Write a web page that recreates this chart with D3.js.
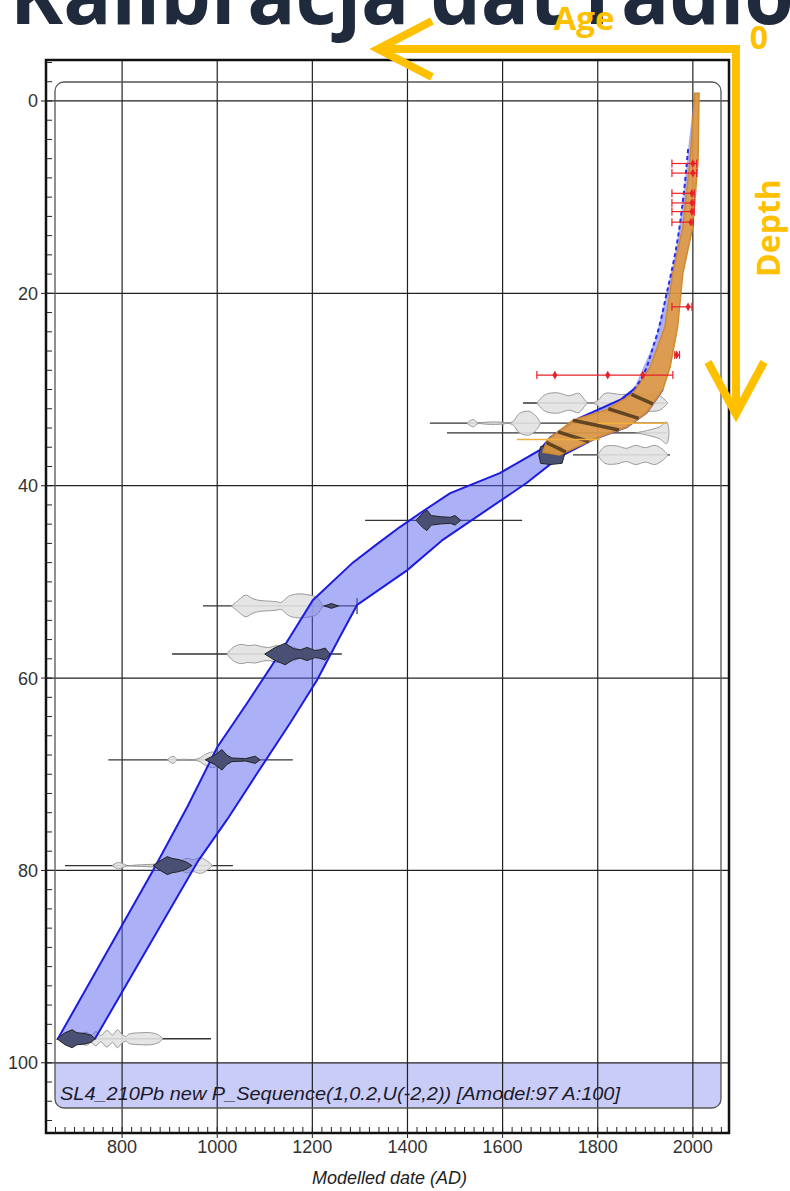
<!DOCTYPE html>
<html>
<head>
<meta charset="utf-8">
<script src="https://cdn.jsdelivr.net/npm/d3@7"></script>
<style>
  body { margin: 0; background: #fff; }
  svg { display: block; }
</style>
</head>
<body>
<script>
var W = 790, H = 1191;

// axis ticks
var xTicks = [800, 1000, 1200, 1400, 1600, 1800, 2000];
var yTicks = [0, 20, 40, 60, 80, 100];

// blue P_Sequence envelope: older (left) edge and younger (right) edge
var envOldDepth = [-0.8, 5, 10, 15, 20, 25, 30, 31, 33, 35, 36.3, 38.7, 40.8, 42.5, 44.3, 46, 48, 51.9, 57.4, 62.6, 67.2, 73.4, 80, 97.5];
var envOldYear  = [2003, 1990, 1980, 1966, 1945, 1920, 1875, 1850, 1760, 1700, 1678, 1594, 1489, 1437, 1384, 1338, 1285, 1201, 1132, 1063, 1000, 937, 865, 665];
var envYoungDepth = [-0.8, 6.1, 13.1, 17.9, 23.5, 26.9, 30, 32.4, 33.9, 35.2, 37, 39.7, 45.6, 48.8, 52.4, 55.7, 60.2, 64.7, 69.9, 74.7, 79, 97.5];
var envYoungYear  = [2013, 2011, 2000, 1979, 1968, 1956, 1937, 1903, 1861, 1790, 1720, 1651, 1475, 1399, 1294, 1258, 1210, 1153, 1084, 1021, 960, 743];

// orange 210Pb model band
var pbOldDepth = [-0.8, 6.1, 13.1, 17.9, 23.5, 27.7, 30.4, 32.1, 33.2, 35.3, 36.5];
var pbOldYear  = [2004, 1994, 1979, 1958, 1941, 1910, 1874, 1819, 1748, 1693, 1685];
var pbYoungDepth = [-0.8, 6.1, 13.1, 17.9, 23.5, 27.7, 30, 32.4, 33.9, 35.2, 36.8];
var pbYoungYear  = [2013, 2011, 2000, 1979, 1968, 1952, 1937, 1903, 1861, 1790, 1720];
var stripeDepths = [31.0, 32.5, 33.7, 34.9, 36.0];
var pbRangeDepth = [33.5, 35.2];
var pbRangeFrom  = [1800, 1630];
var pbRangeTo    = [1945, 1805];

// red 210Pb dates
var leadDepth = [6.5, 7.5, 9.6, 10.6, 11.5, 12.6, 21.4, 26.4, 28.5];
var leadFrom  = [1956, 1956, 1956, 1956, 1956, 1956, 1956, 1962, 1672];
var leadTo    = [2008, 2008, 2003, 2003, 2003, 2001, 1998, 1972, 1958];
var leadMarks = [[2000], [2000], [1998], [1998], [1998], [1996], [1990], [1966], [1710, 1821, 1895]];

// radiocarbon samples: depth, range line, unmodelled (grey) and modelled (dark) densities
var c14Depth = [97.5, 79.5, 68.5, 57.5, 52.5, 43.6, 36.8, 31.4, 33.5, 34.5];
var c14From  = [663, 680, 771, 905, 970, 1311, 1748, 1643, 1447, 1483];
var c14To    = [987, 1033, 1159, 1262, 1294, 1641, 1952, 1945, 1945, 1945];
var c14Prior = [
  [[700,0],[712,0.3],[725,0.55],[735,0.3],[745,0.6],[755,0.25],[768,0.7],[780,0.3],[790,0.75],[800,0.35],[808,0.2],[815,0.4],[840,0.5],[860,0.5],[875,0.35],[886,0]],
  [[779,0],[790,0.25],[800,0.2],[811,0],[830,0.05],[880,0.15],[920,0.3],[935,0.6],[950,0.5],[965,0.65],[980,0.35],[990,0]],
  [[895,0],[907,0.3],[918,0],[960,0.1],[975,0.45],[990,0.65],[1000,0.5],[1008,0]],
  [[1020,0],[1035,0.6],[1050,0.8],[1065,0.7],[1080,0.75],[1095,0.6],[1110,0.55],[1125,0.7],[1145,0.65],[1165,0.5],[1180,0]],
  [[1030,0],[1045,0.5],[1060,0.9],[1075,0.6],[1090,0.45],[1110,0.4],[1125,0.35],[1135,0.3],[1150,0.8],[1170,1.0],[1195,0.9],[1210,0.7],[1222,0]],
  [],
  [[1800,0],[1815,0.7],[1840,0.75],[1860,0.55],[1880,0.8],[1900,0.6],[1920,0.8],[1935,0.5],[1948,0]],
  [[1672,0],[1690,0.7],[1715,0.85],[1740,0.6],[1760,0.8],[1780,0],[1800,0.2],[1815,0.8],[1850,0.7],[1880,0.8],[1910,0.7],[1930,0.6],[1948,0]],
  [[1525,0],[1538,0.3],[1550,0],[1620,0.1],[1635,0.8],[1655,1.0],[1670,0.6],[1680,0]],
  [[1880,0],[1905,0.2],[1930,0.5],[1945,0.9],[1950,0]]
];
var c14Post = [
  [[663,0],[680,0.5],[695,0.75],[705,0.5],[720,0.45],[735,0.3],[743,0]],
  [[865,0],[880,0.4],[895,0.75],[905,0.6],[920,0.5],[935,0.3],[947,0]],
  [[975,0],[995,0.4],[1010,0.85],[1020,0.4],[1031,0.15],[1060,0.1],[1080,0.3],[1090,0]],
  [[1100,0],[1120,0.5],[1143,0.9],[1160,0.45],[1175,0.35],[1189,0.55],[1205,0.3],[1215,0.35],[1227,0.5],[1237,0]],
  [[1225,0],[1240,0.2],[1255,0]],
  [[1418,0],[1432,0.6],[1441,0.85],[1450,0.4],[1470,0.3],[1490,0.25],[1500,0.4],[1512,0]],
  [[1676,0],[1680,0.7],[1700,0.8],[1725,0.7],[1730,0]],
  [], [], []
];

var svg = d3.select("body").append("svg")
    .attr("width", W)
    .attr("height", H);

var x = d3.scaleLinear().domain([640, 2076]).range([46, 729]);
var y = d3.scaleLinear().domain([-4.26, 107.3]).range([60, 1133]);

var pLeft = x.range()[0], pRight = x.range()[1];
var pTop = y.range()[0], pBottom = y.range()[1];

// group box (rounded) and its label band
svg.append("clipPath").attr("id", "grp")
  .append("rect")
    .attr("x", 55).attr("y", 82).attr("width", 666).attr("height", 1026).attr("rx", 9);

svg.append("rect")
    .attr("clip-path", "url(#grp)")
    .attr("x", 55).attr("y", y(100)).attr("width", 666).attr("height", 1108 - y(100))
    .attr("fill", "#c9ccf7");

// grid
svg.append("g").selectAll("line")
  .data(xTicks).enter().append("line")
    .attr("x1", function (d) { return x(d); }).attr("x2", function (d) { return x(d); })
    .attr("y1", pTop).attr("y2", pBottom)
    .attr("stroke", "#222").attr("stroke-width", 1.2);

svg.append("g").selectAll("line")
  .data(yTicks).enter().append("line")
    .attr("x1", pLeft).attr("x2", pRight)
    .attr("y1", function (d) { return y(d); }).attr("y2", function (d) { return y(d); })
    .attr("stroke", "#222").attr("stroke-width", 1.2);

svg.append("rect")
    .attr("x", 55).attr("y", 82).attr("width", 666).attr("height", 1026).attr("rx", 9)
    .attr("fill", "none").attr("stroke", "#555").attr("stroke-width", 1.3);

svg.append("text")
    .attr("x", 60).attr("y", 1100)
    .attr("font-family", "Liberation Sans, Arial, sans-serif")
    .attr("font-style", "italic")
    .attr("font-size", 19)
    .attr("fill", "#1a1a2a")
    .attr("textLength", 560)
    .attr("lengthAdjust", "spacingAndGlyphs")
    .text("SL4_210Pb new P_Sequence(1,0.2,U(-2,2)) [Amodel:97 A:100]");

// density shapes
var maxH = 12;
function distPath(depth, pts, curve) {
    return d3.area()
        .x(function (d) { return x(d[0]); })
        .y0(function (d) { return y(depth) - d[1] * maxH; })
        .y1(function (d) { return y(depth) + d[1] * maxH; })
        .curve(curve)(pts);
}

// range lines
svg.append("g").selectAll("line")
  .data(c14Depth).enter().append("line")
    .attr("x1", function (d, i) { return x(c14From[i]); })
    .attr("x2", function (d, i) { return x(c14To[i]); })
    .attr("y1", function (d) { return y(d); })
    .attr("y2", function (d) { return y(d); })
    .attr("stroke", "#333").attr("stroke-width", 1.3);

// end cap on sample at 52.5
svg.append("line")
    .attr("x1", x(c14To[4])).attr("x2", x(c14To[4]))
    .attr("y1", y(c14Depth[4]) - 8).attr("y2", y(c14Depth[4]) + 8)
    .attr("stroke", "#333").attr("stroke-width", 1.2);

// unmodelled (grey)
svg.append("g").selectAll("path")
  .data(c14Depth).enter().append("path")
    .attr("d", function (d, i) { return c14Prior[i].length ? distPath(d, c14Prior[i], d3.curveCatmullRom) : null; })
    .attr("fill", "#e2e2e2").attr("fill-opacity", 0.9)
    .attr("stroke", "#9a9a9a").attr("stroke-width", 1);

// envelope
var envPts = envOldDepth.map(function (d, i) { return [x(envOldYear[i]), y(d)]; })
    .concat(envYoungDepth.map(function (d, i) { return [x(envYoungYear[i]), y(d)]; }).reverse());

svg.append("path")
    .attr("d", d3.line()(envPts) + "Z")
    .attr("fill", "#5a64f0").attr("fill-opacity", 0.5)
    .attr("stroke", "none");

var oldSolid = envOldDepth.map(function (d, i) { return [x(envOldYear[i]), y(d)]; })
    .filter(function (p, i) { return envOldDepth[i] >= 30; });
var youngSolid = envYoungDepth.map(function (d, i) { return [x(envYoungYear[i]), y(d)]; })
    .filter(function (p, i) { return envYoungDepth[i] >= 30; });

svg.append("path")
    .attr("d", d3.line()(oldSolid.concat(youngSolid.reverse())))
    .attr("fill", "none").attr("stroke", "#1c1ce0").attr("stroke-width", 2);

// modelled (dark)
svg.append("g").selectAll("path")
  .data(c14Depth).enter().append("path")
    .attr("d", function (d, i) { return c14Post[i].length ? distPath(d, c14Post[i], d3.curveLinear) : null; })
    .attr("fill", "#4a5074")
    .attr("stroke", "#222").attr("stroke-width", 1);

// orange Pb model band
var pbOldAt = d3.scaleLinear().domain(pbOldDepth).range(pbOldYear);
var pbYoungAt = d3.scaleLinear().domain(pbYoungDepth).range(pbYoungYear);

var pbPts = pbOldDepth.map(function (d, i) { return [x(pbOldYear[i]), y(d)]; })
    .concat(pbYoungDepth.map(function (d, i) { return [x(pbYoungYear[i]), y(d)]; }).reverse());

svg.append("path")
    .attr("d", d3.line().curve(d3.curveLinearClosed)(pbPts))
    .attr("fill", "#e39a3b").attr("fill-opacity", 0.88)
    .attr("stroke", "#d08a30").attr("stroke-width", 1.5);

svg.append("g").selectAll("line")
  .data(stripeDepths).enter().append("line")
    .attr("x1", function (d) { return x(pbOldAt(d - 0.5)); })
    .attr("y1", function (d) { return y(d - 0.5); })
    .attr("x2", function (d) { return x(pbYoungAt(d + 0.5)); })
    .attr("y2", function (d) { return y(d + 0.5); })
    .attr("stroke", "#3a2a14").attr("stroke-width", 3.5).attr("stroke-opacity", 0.75);

svg.append("g").selectAll("line")
  .data(pbRangeDepth).enter().append("line")
    .attr("x1", function (d, i) { return x(pbRangeFrom[i]); })
    .attr("x2", function (d, i) { return x(pbRangeTo[i]); })
    .attr("y1", function (d) { return y(d); })
    .attr("y2", function (d) { return y(d); })
    .attr("stroke", "#f0b040").attr("stroke-width", 1.5);

// dashed blue line along the older edge in the Pb section
var oldDash = envOldDepth.map(function (d, i) { return [x(envOldYear[i]), y(d)]; })
    .filter(function (p, i) { return envOldDepth[i] <= 31 && envOldDepth[i] >= 3; });
svg.append("path")
    .attr("d", d3.line().curve(d3.curveMonotoneY)(oldDash))
    .attr("fill", "none").attr("stroke", "#2a2af0")
    .attr("stroke-width", 2).attr("stroke-dasharray", "4,3");

// red 210Pb dates
var lead = svg.append("g").attr("stroke", "#e8202a").attr("fill", "#e8202a");
leadDepth.forEach(function (d, i) {
    lead.append("line")
        .attr("x1", x(leadFrom[i])).attr("x2", x(leadTo[i]))
        .attr("y1", y(d)).attr("y2", y(d))
        .attr("stroke-width", 1.2);
    [leadFrom[i], leadTo[i]].forEach(function (v) {
        lead.append("line")
            .attr("x1", x(v)).attr("x2", x(v))
            .attr("y1", y(d) - 4).attr("y2", y(d) + 4)
            .attr("stroke-width", 1.2);
    });
    leadMarks[i].forEach(function (v) {
        lead.append("path")
            .attr("transform", "translate(" + x(v) + "," + y(d) + ")")
            .attr("d", d3.symbol(d3.symbolDiamond, 22)())
            .attr("stroke", "none");
    });
});

// frame
svg.append("rect")
    .attr("x", pLeft).attr("y", pTop)
    .attr("width", pRight - pLeft).attr("height", pBottom - pTop)
    .attr("fill", "none").attr("stroke", "#111").attr("stroke-width", 2.5);

// minor / major ticks
svg.append("g").selectAll("line")
  .data(d3.range(-4, 107, 2)).enter().append("line")
    .attr("x1", function (d) { return d % 20 === 0 ? pLeft - 5 : pLeft; })
    .attr("x2", pLeft + 6)
    .attr("y1", function (d) { return y(d); })
    .attr("y2", function (d) { return y(d); })
    .attr("stroke", "#222").attr("stroke-width", 1);

svg.append("g").selectAll("line")
  .data(d3.range(660, 2070, 20)).enter().append("line")
    .attr("x1", function (d) { return x(d); })
    .attr("x2", function (d) { return x(d); })
    .attr("y1", function (d) { return d % 200 === 0 ? pBottom + 5 : pBottom; })
    .attr("y2", pBottom - 6)
    .attr("stroke", "#222").attr("stroke-width", 1);

// tick labels
svg.append("g").selectAll("text")
  .data(yTicks).enter().append("text")
    .attr("x", 38)
    .attr("y", function (d) { return y(d); })
    .attr("dy", "0.36em")
    .attr("text-anchor", "end")
    .attr("font-family", "Liberation Sans, Arial, sans-serif")
    .attr("font-size", 18)
    .attr("fill", "#333")
    .text(function (d) { return d; });

svg.append("g").selectAll("text")
  .data(xTicks).enter().append("text")
    .attr("x", function (d) { return x(d); })
    .attr("y", 1153)
    .attr("text-anchor", "middle")
    .attr("font-family", "Liberation Sans, Arial, sans-serif")
    .attr("font-size", 18)
    .attr("fill", "#333")
    .text(function (d) { return d; });

svg.append("text")
    .attr("x", (pLeft + pRight) / 2 + 2)
    .attr("y", 1184)
    .attr("text-anchor", "middle")
    .attr("font-family", "Liberation Sans, Arial, sans-serif")
    .attr("font-style", "italic")
    .attr("font-size", 18)
    .attr("fill", "#222")
    .text("Modelled date (AD)");

// slide title (cut by the top edge)
svg.append("text")
    .attr("x", 10).attr("y", 24)
    .attr("font-family", "Open Sans, sans-serif")
    .attr("font-weight", "bold")
    .attr("font-size", 80)
    .attr("fill", "#1f2a3d")
    .text("Kalibracja dat radiowęglowych");

// yellow annotation arrows
var yellow = "#ffc000";
svg.append("path")
    .attr("d", "M736,49 L378,49 M432,21 L378,49 L432,77")
    .attr("fill", "none").attr("stroke", yellow).attr("stroke-width", 8)
    .attr("stroke-linejoin", "miter");
svg.append("path")
    .attr("d", "M736,45 L736,414 M708,362 L736,414 L764,362")
    .attr("fill", "none").attr("stroke", yellow).attr("stroke-width", 8);

svg.append("text")
    .attr("x", 584).attr("y", 30)
    .attr("text-anchor", "middle")
    .attr("font-family", "Open Sans, sans-serif")
    .attr("font-weight", "bold")
    .attr("font-size", 33)
    .attr("fill", yellow)
    .text("Age");

svg.append("text")
    .attr("x", 759).attr("y", 49)
    .attr("text-anchor", "middle")
    .attr("font-family", "Open Sans, sans-serif")
    .attr("font-weight", "bold")
    .attr("font-size", 32)
    .attr("fill", yellow)
    .text("0");

svg.append("text")
    .attr("transform", "translate(780,228) rotate(-90)")
    .attr("text-anchor", "middle")
    .attr("font-family", "Open Sans, sans-serif")
    .attr("font-weight", "bold")
    .attr("font-size", 32)
    .attr("fill", yellow)
    .text("Depth");
</script>
</body>
</html>
